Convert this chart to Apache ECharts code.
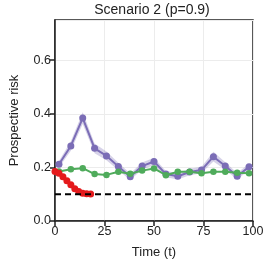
<!DOCTYPE html>
<html><head><meta charset="utf-8">
<script src="https://cdn.jsdelivr.net/npm/echarts@6/dist/echarts.min.js"></script>
<style>html,body{margin:0;padding:0;background:#fff}#c{width:270px;height:266px}</style>
</head><body><div id="c"></div>
<script>
const purpleX = [2,8,14,20,26,32,38,44,50,56,62,68,74,80,86,92,98];
const purpleY = [0.212,0.28,0.384,0.271,0.243,0.203,0.165,0.205,0.222,0.175,0.167,0.183,0.19,0.24,0.205,0.167,0.202];
const purpleHalf = [0.012,0.018,0.022,0.018,0.016,0.014,0.012,0.013,0.014,0.012,0.012,0.012,0.012,0.018,0.014,0.012,0.012];
const greenX = [2,8,14,20,26,32,38,44,50,56,62,68,74,80,86,92,98];
const greenY = [0.185,0.193,0.197,0.175,0.172,0.184,0.176,0.188,0.196,0.171,0.184,0.184,0.178,0.184,0.184,0.18,0.178];
const redX = [0,2,4,6,8,10,12,14,16,18];
const redY = [0.185,0.178,0.165,0.15,0.135,0.12,0.11,0.104,0.102,0.101];
const baseline = 0.1;
const xTicks = [0,25,50,75,100];
const titleText = 'Scenario 2 (p=0.9)';

const font = 'Liberation Sans, Arial, sans-serif';
const pair = (xs, ys) => xs.map((x,i)=>[x, ys[i]]);

const chart = echarts.init(document.getElementById('c'), null, {renderer:'canvas'});
chart.setOption({
  animation:false,
  graphic:[{type:'text', x:152, y:10, silent:true,
    style:{text:titleText, fontFamily:font, fontSize:14, fill:'#222', align:'center', verticalAlign:'middle'}}],
  grid:{left:51, right:17, top:20, bottom:45, show:true, borderColor:'#222', borderWidth:1.5},
  xAxis:{type:'value', min:0, max:100, interval:25,
    name:'Time (t)', nameLocation:'middle', nameGap:25,
    nameTextStyle:{fontFamily:font, fontSize:13, color:'#222'},
    axisLine:{show:true, lineStyle:{color:'#222', width:1.5}},
    axisTick:{show:true, length:5, lineStyle:{color:'#222', width:1.5}},
    axisLabel:{fontFamily:font, fontSize:12.5, color:'#222', margin:4},
    splitLine:{show:true, lineStyle:{color:'#ececec', width:1}}},
  yAxis:{type:'value', min:0, max:0.75, interval:0.2,
    name:'Prospective risk', nameLocation:'middle', nameGap:34,
    nameTextStyle:{fontFamily:font, fontSize:13, color:'#222'},
    axisLine:{show:true, lineStyle:{color:'#222', width:1.5}},
    axisTick:{show:true, length:5, lineStyle:{color:'#222', width:1.5}},
    axisLabel:{fontFamily:font, fontSize:12.5, color:'#222', margin:4, showMaxLabel:false,
      formatter:v=>v.toFixed(1)},
    splitLine:{show:true, lineStyle:{color:'#ececec', width:1}}},
  series:[
    {type:'custom', z:1, silent:true,
     data: purpleX.map((x,i)=>[x, purpleY[i]-purpleHalf[i], purpleY[i]+purpleHalf[i]]),
     encode:{x:0, y:[1,2]},
     renderItem:(params, api)=>{
       if (params.dataIndex !== 0) return null;
       const up = purpleX.map((x,i)=>api.coord([x, purpleY[i]+purpleHalf[i]]));
       const lo = purpleX.map((x,i)=>api.coord([x, purpleY[i]-purpleHalf[i]])).reverse();
       return {type:'polygon', shape:{points: up.concat(lo)},
         style:{fill:'rgba(128,115,185,0.32)', stroke:'none'}};
     }},
    {type:'line', z:3, data:pair(purpleX, purpleY), symbol:'circle', symbolSize:7,
     lineStyle:{color:'#7b6db6', width:2}, itemStyle:{color:'#7b6db6'}},
    {type:'line', z:4, data:pair(greenX, greenY), symbol:'circle', symbolSize:6.5,
     lineStyle:{color:'#4fab5b', width:2}, itemStyle:{color:'#4fab5b'}},
    {type:'line', z:5, data:pair(redX, redY), symbol:'circle', symbolSize:7,
     lineStyle:{color:'#e41a1c', width:2}, itemStyle:{color:'#e41a1c'}},
    {type:'line', z:6, data:[[xTicks[0], baseline],[xTicks[xTicks.length-1], baseline]], symbol:'none',
     lineStyle:{color:'#000', width:2, type:[6,4]}}
  ]
});
</script></body></html>
